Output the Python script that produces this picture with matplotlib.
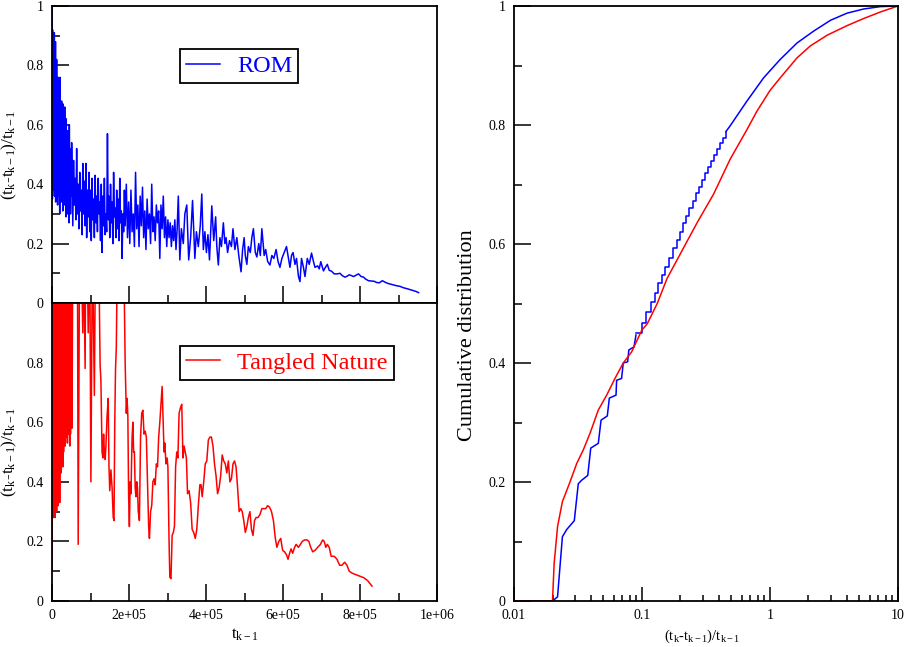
import matplotlib
matplotlib.use('Agg')
import matplotlib.pyplot as plt
import numpy as np
from matplotlib.ticker import FixedLocator, NullFormatter, LogLocator

# ---- left panels: relative waiting time vs previous event time (t in units of 1e3) ----
ROM_T_K = [
    0, 0.3, 1, 1.5, 2, 3, 3.5, 4.5, 5, 6,
    6.5, 7.5, 8, 9, 9.5, 10.5, 11, 12, 13, 14,
    14.5, 15.5, 16.5, 17.5, 18, 19, 20, 21, 22, 23,
    24, 25, 26, 27, 28, 29, 30, 31, 32, 33,
    34, 35, 36, 37, 38, 39, 40, 41, 42, 43,
    44, 45, 46, 47, 48, 49, 50,
    51, 52, 54, 56, 58, 60, 62, 64, 66, 68,
    70, 72, 74, 76, 78, 80, 82, 84, 86, 88,
    90, 92, 94, 96, 98, 100, 102, 104, 106, 108,
    110, 112, 114, 116, 118, 120, 122, 124, 126, 128,
    130, 132, 134, 136, 138, 140, 142, 144, 146, 148,
    150, 152, 154, 156, 158, 160, 162, 164, 166, 168,
    170, 172, 174, 176, 178, 180, 182, 184, 186, 188,
    190, 193, 196, 199, 202, 205, 208, 211, 214, 217,
    220, 223, 226, 229, 232, 235, 238, 241, 244, 247,
    250, 253, 256, 259, 262, 265, 268, 271, 274, 277,
    280, 283, 286, 289, 292, 295, 298, 301, 304, 307,
    310, 313, 316, 319, 322, 325,
    328, 332, 336, 341, 345, 350, 355, 360, 365, 371,
    375, 380, 385, 389, 393, 397, 401, 405, 409, 415,
    420, 425, 428, 432, 436, 440, 445, 449, 452, 456,
    461, 466, 470, 475, 480, 485, 491, 495, 499, 502,
    506, 510, 515, 519, 523, 528, 532, 537, 541, 545,
    551, 555, 560, 566, 571, 576, 582, 587, 592, 597,
    603, 609, 614, 618, 622, 626, 631, 635, 640, 644,
    648, 653, 657, 663, 668, 674, 679, 683, 690, 694,
    698, 705, 710, 715, 720, 726, 733, 740, 748, 754,
    761, 766, 772, 778, 783, 790, 796, 803, 809, 815,
    822, 830, 837, 843, 850, 858, 865, 872, 878, 886,
    895, 904, 911, 917, 925, 935, 945, 952,
]
ROM_RATIO = [
    0.40, 1.00, 0.35, 0.92, 0.45, 0.90, 0.38, 0.85, 0.42, 0.91,
    0.36, 0.80, 0.47, 0.88, 0.34, 0.70, 0.40, 0.82, 0.38, 0.66,
    0.33, 0.76, 0.36, 0.62, 0.42, 0.74, 0.30, 0.76, 0.44, 0.58,
    0.34, 0.68, 0.40, 0.55, 0.31, 0.67, 0.38, 0.52, 0.33, 0.66,
    0.40, 0.50, 0.29, 0.62, 0.36, 0.48, 0.30, 0.58, 0.35, 0.46,
    0.27, 0.60, 0.34, 0.44, 0.30, 0.52, 0.36,
    0.54, 0.45, 0.26, 0.48, 0.33, 0.42, 0.28, 0.52, 0.30, 0.40,
    0.25, 0.44, 0.31, 0.38, 0.23, 0.47, 0.30, 0.41, 0.26, 0.47,
    0.22, 0.38, 0.29, 0.44, 0.24, 0.38, 0.21, 0.42, 0.28, 0.35,
    0.22, 0.43, 0.27, 0.36, 0.24, 0.42, 0.30, 0.34, 0.21, 0.40,
    0.17, 0.36, 0.26, 0.42, 0.23, 0.30, 0.24, 0.57, 0.28, 0.36,
    0.22, 0.40, 0.27, 0.34, 0.20, 0.44, 0.29, 0.32, 0.22, 0.38,
    0.25, 0.35, 0.21, 0.42, 0.27, 0.31, 0.15, 0.30, 0.24, 0.38,
    0.26, 0.40, 0.22, 0.34, 0.20, 0.38, 0.24, 0.30, 0.19, 0.44,
    0.25, 0.33, 0.19, 0.36, 0.26, 0.39, 0.22, 0.31, 0.18, 0.35,
    0.25, 0.30, 0.20, 0.40, 0.24, 0.29, 0.21, 0.33, 0.27, 0.31,
    0.15, 0.33, 0.25, 0.36, 0.22, 0.29, 0.19, 0.28, 0.22, 0.27,
    0.19, 0.26, 0.21, 0.28, 0.18, 0.25,
    0.36, 0.145, 0.25, 0.20, 0.30, 0.33, 0.145, 0.22, 0.345, 0.15,
    0.24, 0.19, 0.26, 0.367, 0.18, 0.24, 0.17, 0.23, 0.145, 0.327,
    0.21, 0.29, 0.19, 0.128, 0.22, 0.19, 0.27, 0.20, 0.22, 0.17,
    0.21, 0.19, 0.25, 0.18, 0.22, 0.16, 0.105, 0.18, 0.22, 0.16,
    0.13, 0.19, 0.17, 0.22, 0.25, 0.17, 0.155, 0.20, 0.16, 0.25,
    0.16, 0.18, 0.14, 0.128, 0.16, 0.15, 0.18, 0.14, 0.12, 0.15,
    0.17, 0.19, 0.15, 0.12, 0.16, 0.17, 0.13, 0.15, 0.09, 0.072,
    0.15, 0.12, 0.089, 0.15, 0.13, 0.168, 0.14, 0.12, 0.125, 0.115,
    0.139, 0.108, 0.12, 0.13, 0.11, 0.107, 0.098, 0.098, 0.10, 0.092,
    0.087, 0.09, 0.095, 0.092, 0.089, 0.094, 0.098, 0.089, 0.087, 0.08,
    0.075, 0.074, 0.073, 0.069, 0.068, 0.075, 0.07, 0.066, 0.064, 0.061,
    0.058, 0.056, 0.052, 0.05, 0.047, 0.043, 0.039, 0.035,
]

TN_T_K = [
    0, 1, 2, 3, 4, 5, 6, 7, 8, 9,
    10, 11, 12, 13, 14, 15, 16, 17, 18, 19,
    20, 21, 22, 23, 24, 25, 26, 27, 28, 29,
    30, 31, 32, 33, 34, 35, 36, 37, 38, 39,
    40, 41, 42, 43, 44, 45, 46, 47, 48, 49,
    50, 51, 52, 54, 66, 68, 72, 77, 80, 82,
    86, 88, 92, 94, 98, 101, 105, 110, 113, 121,
    125, 127, 130, 132, 134, 136, 138, 140, 143, 146,
    148, 150, 153, 156, 159, 161, 163, 165, 167, 170,
    186, 190, 193, 195, 197, 199, 201, 203, 205, 208,
    210, 212, 214, 216, 218, 220, 222, 224, 227, 230,
    233, 236, 239, 242, 245, 248, 251, 253, 256, 259,
    262, 265, 268, 271, 274, 277, 280, 283, 286, 289,
    291, 293, 296, 299, 301, 304, 306, 309, 312, 315,
    318, 321, 324, 327, 330, 334, 337, 340, 343, 346,
    349, 352, 356, 360, 364, 368, 372, 376, 380, 384,
    387, 390, 394, 398, 402, 406, 410, 414, 418, 422,
    426, 430, 434, 438, 442, 446, 450, 454, 458, 462,
    466, 470, 474, 478, 482, 486, 490, 494, 498, 502,
    506, 510, 514, 518, 522, 526, 530, 535, 540, 545,
    550, 555, 560, 565, 570, 575, 580, 584, 589, 594,
    599, 604, 609, 613, 617, 621, 625, 630, 634, 640,
    645, 650, 656, 662, 667, 672, 677, 683, 690, 697,
    703, 707, 711, 715, 720, 725, 733, 740, 747, 753,
    760, 766, 772, 780, 790, 800, 810, 820, 831,
]
TN_RATIO = [
    0.10, 0.90, 0.30, 1.3, 0.28, 1.4, 0.35, 1.2, 0.28, 1.5,
    0.40, 1.1, 0.30, 1.3, 0.45, 1.2, 0.32, 1.4, 0.50, 1.1,
    0.33, 1.3, 0.60, 1.2, 0.43, 1.0, 0.55, 1.3, 0.45, 1.2,
    0.50, 1.3, 0.62, 1.1, 0.52, 1.2, 0.55, 1.3, 0.58, 1.1,
    0.53, 1.2, 0.56, 1.3, 0.60, 1.1, 0.52, 1.2, 0.56, 1.3,
    0.58, 1.1, 0.58, 1.2, 1.2, 0.19, 1.3, 1.1, 0.90, 1.2,
    0.78, 1.3, 1.1, 0.90, 1.2, 0.40, 1.2, 0.69, 1.2, 1.2,
    0.79, 0.74, 0.50, 0.48, 0.56, 0.50, 0.475, 0.52, 0.62, 0.68,
    0.45, 0.37, 0.44, 0.38, 0.28, 0.27, 0.60, 0.78, 0.85, 1.2,
    1.2, 0.80, 0.63, 0.68, 0.62, 0.35, 0.25, 0.40, 0.36, 0.55,
    0.60, 0.50, 0.50, 0.38, 0.35, 0.40, 0.38, 0.30, 0.27, 0.55,
    0.63, 0.64, 0.56, 0.57, 0.55, 0.40, 0.25, 0.21, 0.30, 0.32,
    0.40, 0.41, 0.39, 0.46, 0.45, 0.55, 0.60, 0.66, 0.72, 0.58,
    0.50, 0.53, 0.46, 0.48, 0.45, 0.20, 0.08, 0.075, 0.22, 0.23,
    0.25, 0.45, 0.50, 0.48, 0.63, 0.65, 0.66, 0.48, 0.52, 0.50,
    0.48, 0.36, 0.37, 0.33, 0.24, 0.23, 0.21, 0.24, 0.32, 0.39,
    0.39, 0.35, 0.40, 0.46, 0.47, 0.54, 0.55, 0.55, 0.52, 0.46,
    0.42, 0.36, 0.38, 0.42, 0.49, 0.47, 0.46, 0.43, 0.47, 0.40,
    0.41, 0.46, 0.47, 0.45, 0.38, 0.30, 0.31, 0.30, 0.27, 0.23,
    0.25, 0.28, 0.30, 0.24, 0.22, 0.27, 0.28, 0.28, 0.29, 0.31,
    0.31, 0.31, 0.32, 0.315, 0.30, 0.27, 0.21, 0.18, 0.20, 0.21,
    0.17, 0.165, 0.155, 0.14, 0.16, 0.175, 0.16, 0.18, 0.19, 0.18,
    0.19, 0.20, 0.205, 0.205, 0.20, 0.18, 0.165, 0.17, 0.18, 0.19,
    0.205, 0.20, 0.18, 0.19, 0.18, 0.15, 0.15, 0.14, 0.12, 0.12,
    0.13, 0.12, 0.10, 0.093, 0.088, 0.083, 0.078, 0.068, 0.05,
]

# ---- right panel: cumulative distributions ----
ROM_CDF_LOW_X = [0.01, 0.0200, 0.0219, 0.0239, 0.0258, 0.0296, 0.0318, 0.0338, 0.0377, 0.0398,
                 0.0456, 0.0479, 0.0536, 0.0556, 0.0627, 0.0634, 0.0693, 0.0714, 0.0773, 0.079,
                 0.0866, 0.0898]
ROM_CDF_LOW_Y = [0.0, 0.0, 0.007, 0.108, 0.12, 0.135, 0.197, 0.203, 0.211, 0.257,
                 0.265, 0.304, 0.311, 0.341, 0.346, 0.371, 0.374, 0.40, 0.402, 0.422,
                 0.427, 0.447]
ROM_CDF_STEP_X = [0.0898, 0.0994, 0.1074, 0.117, 0.1264, 0.134, 0.144, 0.151, 0.1635, 0.174,
                  0.1867, 0.198, 0.208, 0.221, 0.234, 0.249, 0.264, 0.281, 0.293, 0.31,
                  0.33, 0.346, 0.365, 0.388, 0.407, 0.427, 0.453]
ROM_CDF_STEP_Y = [0.450, 0.468, 0.486, 0.503, 0.517, 0.534, 0.548, 0.562, 0.576, 0.593,
                  0.607, 0.621, 0.635, 0.647, 0.66, 0.673, 0.685, 0.696, 0.708, 0.719,
                  0.73, 0.74, 0.75, 0.759, 0.769, 0.779, 0.789]
ROM_CDF_HIGH_X = [0.453, 0.49, 0.66, 0.89, 1.2, 1.63, 2.2, 2.97, 4.0, 5.4, 7.3, 10]
ROM_CDF_HIGH_Y = [0.789, 0.799, 0.84, 0.879, 0.91, 0.938, 0.958, 0.976, 0.988, 0.995, 0.999, 1.0]

TN_CDF_X = [0.01, 0.0200, 0.0206, 0.0219, 0.0239, 0.0274, 0.0309, 0.0348, 0.0393, 0.0456,
            0.053, 0.0615, 0.0714, 0.0832, 0.0996, 0.11, 0.1316, 0.157, 0.20, 0.27,
            0.363, 0.49, 0.66, 0.79, 1.0, 1.2, 1.63, 2.07, 2.8, 4.0,
            5.4, 7.3, 10]
TN_CDF_Y = [0.0, 0.0, 0.063, 0.125, 0.167, 0.20, 0.231, 0.254, 0.282, 0.321,
            0.346, 0.374, 0.40, 0.419, 0.455, 0.466, 0.50, 0.542, 0.584, 0.636,
            0.684, 0.743, 0.792, 0.823, 0.858, 0.879, 0.913, 0.933, 0.951, 0.967,
            0.979, 0.99, 1.0]

assert len(ROM_T_K) == len(ROM_RATIO)
assert len(TN_T_K) == len(TN_RATIO)

Y_TICKS = [0, 0.2, 0.4, 0.6, 0.8, 1.0]
Y_LABELS = ['0', '0.2', '0.4', '0.6', '0.8', '1']
T_TICKS = [0, 2e5, 4e5, 6e5, 8e5, 1e6]
T_LABELS = ['0', '2e+05', '4e+05', '6e+05', '8e+05', '1e+06']
R_TICKS = [0.01, 0.1, 1, 10]
R_LABELS = ['0.01', '0.1', '1', '10']

plt.rcParams['font.family'] = 'Liberation Serif'
plt.rcParams['mathtext.fontset'] = 'custom'
plt.rcParams['mathtext.rm'] = 'Liberation Serif'
plt.rcParams['mathtext.it'] = 'Liberation Serif:italic'
plt.rcParams['axes.linewidth'] = 1.3

BLUE = '#0000ff'
RED = '#ff0000'
ratio_label = r'(t$_{\mathrm{k}}$-t$_{\mathrm{k-1}}$)/t$_{\mathrm{k-1}}$'

fig = plt.figure(figsize=(9.06, 6.47), dpi=100)
ax_top = fig.add_axes([0.0574, 0.5317, 0.425, 0.459])
ax_bot = fig.add_axes([0.0574, 0.0711, 0.425, 0.4606])
ax_cdf = fig.add_axes([0.5673, 0.0711, 0.4238, 0.9196])


def style_linear(ax):
    ax.set_xlim(0, 1e6)
    ax.set_ylim(0, 1)
    ax.xaxis.set_major_locator(FixedLocator(T_TICKS))
    ax.xaxis.set_minor_locator(FixedLocator([1e5, 3e5, 5e5, 7e5, 9e5]))
    ax.yaxis.set_major_locator(FixedLocator(Y_TICKS))
    ax.yaxis.set_minor_locator(FixedLocator([0.1, 0.3, 0.5, 0.7, 0.9]))
    ax.tick_params(which='both', direction='in', top=False, right=False,
                   labelsize=10, width=1.1)
    ax.tick_params(which='major', length=12, pad=6)
    ax.tick_params(which='minor', length=6)
    ax.set_ylabel(ratio_label, fontsize=12.5)
    ax.yaxis.set_label_coords(-0.086, 0.5)


# top: ROM
ax_top.plot(np.array(ROM_T_K) * 1e3, ROM_RATIO, color=BLUE, lw=1.1, label='ROM')
style_linear(ax_top)
ax_top.set_yticklabels(Y_LABELS)
ax_top.xaxis.set_major_formatter(NullFormatter())
leg = ax_top.legend(loc='upper left', bbox_to_anchor=(0.332, 0.855), borderaxespad=0,
                    fontsize=17.5, frameon=True, fancybox=False, framealpha=1,
                    edgecolor='black', labelcolor='linecolor',
                    handlelength=1.4, handletextpad=0.7, borderpad=0.25)
leg.get_frame().set_linewidth(1.3)

# bottom: Tangled Nature
ax_bot.plot(np.array(TN_T_K) * 1e3, TN_RATIO, color=RED, lw=1.1, label='Tangled Nature')
style_linear(ax_bot)
ax_bot.set_yticklabels(Y_LABELS[:-1] + [''])
ax_bot.set_xticklabels(T_LABELS)
ax_bot.set_xlabel(r't$_{\mathrm{k-1}}$', fontsize=12)
ax_bot.xaxis.set_label_coords(0.5, -0.085)
leg = ax_bot.legend(loc='upper left', bbox_to_anchor=(0.332, 0.856), borderaxespad=0,
                    fontsize=17.5, frameon=True, fancybox=False, framealpha=1,
                    edgecolor='black', labelcolor='linecolor',
                    handlelength=1.4, handletextpad=0.7, borderpad=0.25)
leg.get_frame().set_linewidth(1.3)

# right: cumulative distribution
ax_cdf.plot(ROM_CDF_LOW_X, ROM_CDF_LOW_Y, color=BLUE, lw=1.1)
ax_cdf.plot(ROM_CDF_STEP_X, ROM_CDF_STEP_Y, color=BLUE, lw=1.1, drawstyle='steps-post')
ax_cdf.plot(ROM_CDF_HIGH_X, ROM_CDF_HIGH_Y, color=BLUE, lw=1.1)
ax_cdf.plot(TN_CDF_X, TN_CDF_Y, color=RED, lw=1.1)
ax_cdf.set_xscale('log')
ax_cdf.set_xlim(0.01, 10)
ax_cdf.set_ylim(0, 1)
ax_cdf.xaxis.set_major_locator(FixedLocator(R_TICKS))
ax_cdf.set_xticklabels(R_LABELS)
ax_cdf.xaxis.set_minor_locator(LogLocator(base=10, subs=np.arange(2, 10)))
ax_cdf.xaxis.set_minor_formatter(NullFormatter())
ax_cdf.yaxis.set_major_locator(FixedLocator(Y_TICKS))
ax_cdf.set_yticklabels(Y_LABELS)
ax_cdf.yaxis.set_minor_locator(FixedLocator([0.1, 0.3, 0.5, 0.7, 0.9]))
ax_cdf.tick_params(which='both', direction='in', top=False, right=False,
                   labelsize=10, width=1.1)
ax_cdf.tick_params(axis='y', which='major', length=12, pad=6)
ax_cdf.tick_params(axis='y', which='minor', length=6)
ax_cdf.tick_params(axis='x', which='major', length=10, pad=6)
ax_cdf.tick_params(axis='x', which='minor', length=4.5)
ax_cdf.set_ylabel('Cumulative distribution', fontsize=16)
ax_cdf.yaxis.set_label_coords(-0.095, 0.447)
ax_cdf.set_xlabel(ratio_label, fontsize=10.5)
ax_cdf.xaxis.set_label_coords(0.49, -0.045)

fig.savefig('out.png', dpi=100, facecolor='white')
